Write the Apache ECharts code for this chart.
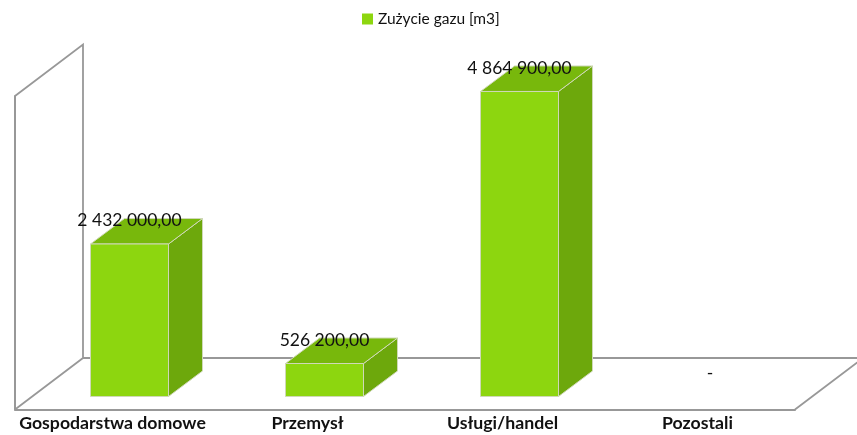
<!DOCTYPE html>
<html><head><meta charset="utf-8">
<style>html,body{margin:0;padding:0;background:#fff}#c{width:857px;height:435px}</style>
<script src="https://cdn.jsdelivr.net/npm/echarts@6/dist/echarts.min.js"></script>
</head><body><div id="c"></div>
<script>
const categories = ['Gospodarstwa domowe', 'Przemysł', 'Usługi/handel', 'Pozostali'];
const gasUse = [2432000, 526200, 4864900, 0];
const seriesName = 'Zużycie gazu [m3]';
const valueMax = 5000000;

const FONT = 'Lato';
const WALL = [68, -51.5];      // depth of the 3D box
const BAR = [34, -25.5];       // depth of a bar
const BAR_SHIFT = [17, -13];   // bar placed mid-depth on the floor
const BAR_W = 78;
const LINE = '#989898';

function fmt(v) {
  if (!v) return '-  ';
  return v.toFixed(2).replace('.', ',').replace(/\B(?=(\d{3})+(?!\d))/g, ' ');
}
const chart = echarts.init(document.getElementById('c'));
chart.setOption({
  animation: false,
  textStyle: { fontFamily: FONT },
  legend: {
    top: 6, left: 357, itemWidth: 11, itemHeight: 11, itemGap: 6,
    data: [{ name: seriesName, icon: 'rect' }],
    textStyle: { fontFamily: FONT, fontSize: 15.5, color: '#111' }
  },
  grid: { left: 15, right: 62, top: 96, bottom: 25.5 },
  xAxis: {
    type: 'category', data: categories,
    axisTick: { show: false },
    axisLine: { lineStyle: { color: LINE, width: 2 } },
    axisLabel: { fontFamily: FONT, fontWeight: 'bold', fontSize: 17.7, color: '#111', margin: 5, interval: 0 }
  },
  yAxis: {
    type: 'value', min: 0, max: valueMax, interval: valueMax,
    axisLabel: { show: false }, axisTick: { show: false }, splitLine: { show: false },
    axisLine: { show: true, lineStyle: { color: LINE, width: 2 } }
  },
  series: [
    {
      type: 'custom', name: 'frame', silent: true, clip: false, z: 1,
      data: [[0, 0]],
      renderItem(params) {
        const cs = params.coordSys;
        const l = cs.x, t = cs.y, b = cs.y + cs.height, r = cs.x + cs.width;
        const poly = (pts, w) => ({
          type: 'polyline', shape: { points: pts },
          style: { stroke: LINE, lineWidth: w, fill: null }
        });
        return { type: 'group', children: [
          poly([[l, t], [l + WALL[0], t + WALL[1]], [l + WALL[0], b + WALL[1]], [l, b]], 1.8),
          poly([[l + WALL[0], b + WALL[1]], [r + WALL[0], b + WALL[1]], [r, b]], 1.8)
        ]};
      }
    },
    {
      type: 'custom', name: seriesName, clip: false, z: 3,
      itemStyle: { color: '#8DD60F' },
      data: gasUse.map((v, i) => [i, v]),
      renderItem(params, api) {
        const i = api.value(0), v = api.value(1);
        const top = api.coord([i, v]), base = api.coord([i, 0]);
        const cx = base[0] + BAR_SHIFT[0];
        const x0 = cx - BAR_W / 2, x1 = cx + BAR_W / 2;
        const yb = base[1] + BAR_SHIFT[1], yt = top[1] + BAR_SHIFT[1];
        const dx = BAR[0], dy = BAR[1];
        const edge = { stroke: '#cfd8b8', lineWidth: 1 };
        const face = (pts, fill) => ({
          type: 'polygon', shape: { points: pts }, style: Object.assign({ fill }, edge)
        });
        const children = [];
        if (v > 0) {
          children.push(
            face([[x1, yb], [x1 + dx, yb + dy], [x1 + dx, yt + dy], [x1, yt]], '#6DA80C'),
            face([[x0, yt], [x0 + dx, yt + dy], [x1 + dx, yt + dy], [x1, yt]], '#78B80C'),
            face([[x0, yb], [x1, yb], [x1, yt], [x0, yt]], '#8DD60F')
          );
        }
        children.push({
          type: 'text', z2: 10,
          style: {
            text: fmt(v), x: cx, y: yt - 23.5, align: 'center', verticalAlign: 'middle',
            font: '17.5px ' + FONT, fill: '#111'
          }
        });
        return { type: 'group', children };
      }
    }
  ]
});
</script></body></html>
